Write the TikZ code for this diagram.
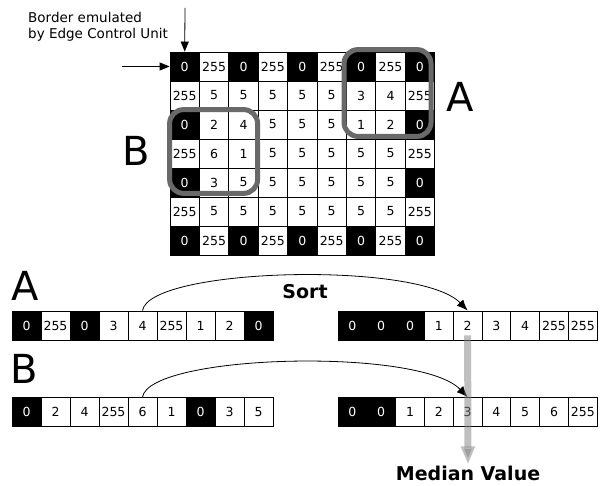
\documentclass[tikz,border=0pt]{standalone}
\usepackage{fontspec}
\setmainfont{DejaVu Sans}
\usetikzlibrary{arrows.meta}
\definecolor{winGray}{RGB}{105,105,105}

\tikzset{
  wht/.style={draw, line width=0.8pt, fill=white, inner sep=0, minimum height=29pt,
    font=\fontsize{12.5}{14}\selectfont},
  blk/.style={wht, fill=black, text=white},
  window/.style={draw=winGray, line width=5pt, rounded corners=14pt},
  big/.style={inner sep=0, font=\fontsize{40}{44}\selectfont},
  title/.style={inner sep=0, font=\bfseries\fontsize{19}{22}\selectfont},
  edgearrow/.style={-{Triangle[length=10pt,width=8pt]}, line width=0.8pt},
  sortarrow/.style={-{Latex[length=11pt,width=9pt]}, line width=0.8pt},
  medianarrow/.style={-{Triangle[length=18pt,width=13pt]}, line width=7pt, draw=black!50, opacity=0.5}
}

\begin{document}
\begin{tikzpicture}[x=1pt,y=1pt]
\useasboundingbox (0,0) rectangle (607,486);

% image with emulated border
\foreach \row [count=\r from 0] in {{0,255,0,255,0,255,0,255,0},{255,5,5,5,5,5,3,4,255},
    {0,2,4,5,5,5,1,2,0},{255,6,1,5,5,5,5,5,255},{0,3,5,5,5,5,5,5,0},
    {255,5,5,5,5,5,5,5,255},{0,255,0,255,0,255,0,255,0}}
  \foreach \v [count=\c from 0] in \row
    {\ifnum\v=0 \def\sty{blk}\else\def\sty{wht}\fi
     \node[\sty, minimum width=29.4pt] (g\r\c) at (184.7+29.4*\c, 419.5-29*\r) {\v};}

\draw[window] ([shift={(-2,2)}]g06.north west) rectangle ([shift={(-4,3)}]g28.south east);
\draw[window] (g20.north west) rectangle ([shift={(-1,4)}]g42.south east);
\node[big] (labA) at (460,389) {A};
\node[big] (labB) at (136,335) {B};

\node[align=left, anchor=north west, inner sep=0, font=\fontsize{13.5}{16}\selectfont] (border)
  at (28,474) {Border emulated\\by Edge Control Unit};
\coordinate (top) at (185,478);
\coordinate (side) at (122,419.5);
\draw[edgearrow] (top) -- (g00.north);
\draw[edgearrow] (side) -- (g00.west);

%-------------------------------------
% windows as rows, before and after sorting
\foreach \v [count=\c from 0] in {0,255,0,3,4,255,1,2,0}
  {\ifnum\v=0 \def\sty{blk}\else\def\sty{wht}\fi
   \node[\sty, minimum width=29pt] (a\c) at (26.5+29*\c, 160.5) {\v};}
\foreach \v [count=\c from 0] in {0,0,0,1,2,3,4,255,255}
  {\ifnum\v=0 \def\sty{blk}\else\def\sty{wht}\fi
   \node[\sty, minimum width=28.8pt] (sa\c) at (352.4+28.8*\c, 160.5) {\v};}
\foreach \v [count=\c from 0] in {0,2,4,255,6,1,0,3,5}
  {\ifnum\v=0 \def\sty{blk}\else\def\sty{wht}\fi
   \node[\sty, minimum width=29pt] (b\c) at (26.5+29*\c, 74) {\v};}
\foreach \v [count=\c from 0] in {0,0,1,2,3,4,5,6,255}
  {\ifnum\v=0 \def\sty{blk}\else\def\sty{wht}\fi
   \node[\sty, minimum width=28.8pt] (sb\c) at (352.4+28.8*\c, 74) {\v};}

\node[big] (rowA) at (25,200) {A};
\node[big] (rowB) at (24,117) {B};

\draw[sortarrow] (a4.north) .. controls +(7,43) and +(-48,50) .. (sa4.north);
\draw[sortarrow] (b4.north) .. controls +(7,43) and +(-48,50) .. (sb4.north);
\node[title] (sort) at (305,194) {Sort};

\node[title] (median) at (468,12.5) {Median Value};
\draw[medianarrow] ([yshift=5pt]sa4.south) -- ([yshift=1.5pt]median.north);

\end{tikzpicture}
\end{document}
